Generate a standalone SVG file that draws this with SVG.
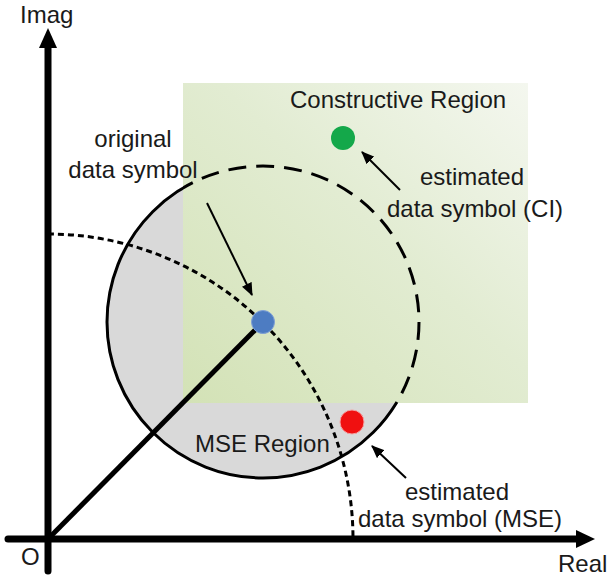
<svg xmlns="http://www.w3.org/2000/svg" width="610" height="576" viewBox="0 0 610 576">
  <style>
    text { font-family: "Liberation Sans", Arial, sans-serif; font-size: 24px; fill: #1a1a1a; }
    .axis { stroke: #000; stroke-width: 7; stroke-linecap: round; fill: none; }
    .ptr { stroke: #000; stroke-width: 2; fill: none; marker-end: url(#ah); }
    .circ { fill: none; stroke: #000; stroke-width: 3; }
  </style>
  <defs>
    <linearGradient id="gr" x1="0" y1="1" x2="1" y2="0">
      <stop offset="0" stop-color="#d3e2b6"/>
      <stop offset="0.55" stop-color="#e2ecd2"/>
      <stop offset="1" stop-color="#f4f7ef"/>
    </linearGradient>
    <clipPath id="outside">
      <path clip-rule="evenodd" d="M0 0H610V576H0Z M183 83V403H528V83Z"/>
    </clipPath>
    <clipPath id="inside">
      <rect x="183" y="83" width="345" height="320"/>
    </clipPath>
    <marker id="ah" viewBox="0 0 12 10" refX="11" refY="5" markerWidth="6.5" markerHeight="5.5" orient="auto" markerUnits="strokeWidth">
      <path d="M0 0L12 5L0 10Z" fill="#000"/>
    </marker>
  </defs>

  <g id="mse-region">
    <circle cx="263" cy="322" r="156" fill="#d9d9d9"/>
  </g>
  <g id="constructive-region">
    <rect x="183" y="83" width="345" height="320" fill="url(#gr)"/>
  </g>

  <g id="unit-arc">
    <path d="M48 234A305 305 0 0 1 353 539" fill="none" stroke="#000" stroke-width="3" stroke-dasharray="6 4"/>
  </g>

  <g id="circle-outline">
    <circle class="circ" cx="263" cy="322" r="156" clip-path="url(#outside)"/>
    <circle class="circ" cx="263" cy="322" r="156" stroke-dasharray="18 10" clip-path="url(#inside)"/>
  </g>

  <g id="axes">
    <line class="axis" x1="48" y1="46" x2="48" y2="571"/>
    <polygon points="48,28 39,48 57,48" fill="#000"/>
    <line class="axis" x1="8" y1="539" x2="578" y2="539"/>
    <polygon points="595,539 576,530 576,548" fill="#000"/>
    <text x="20" y="23" font-size="26">Imag</text>
    <text x="558" y="572" font-size="22">Real</text>
    <text x="21" y="565">O</text>
  </g>

  <g id="connectors">
    <line x1="48" y1="539" x2="263" y2="322" stroke="#000" stroke-width="5"/>
    <line class="ptr" x1="207" y1="203" x2="252" y2="295"/>
    <line class="ptr" x1="400" y1="190" x2="362" y2="152"/>
    <line class="ptr" x1="406" y1="478" x2="372" y2="446"/>
  </g>

  <g id="original-symbol">
    <circle cx="263" cy="322" r="11.5" fill="#4d7cc2" stroke="#7fa0d6" stroke-width="1"/>
    <text x="133" y="147" text-anchor="middle">original</text>
    <text x="133" y="178" text-anchor="middle">data symbol</text>
  </g>

  <g id="ci-symbol">
    <circle cx="343" cy="138" r="12" fill="#14a84a"/>
    <text x="290" y="108">Constructive Region</text>
    <text x="420" y="185">estimated</text>
    <text x="387" y="217">data symbol (CI)</text>
  </g>

  <g id="mse-symbol">
    <circle cx="352" cy="422" r="12" fill="#f01010" stroke="#f4a0a0" stroke-width="1"/>
    <text x="195" y="452">MSE Region</text>
    <text x="405" y="500">estimated</text>
    <text x="358" y="527">data symbol (MSE)</text>
  </g>
</svg>
